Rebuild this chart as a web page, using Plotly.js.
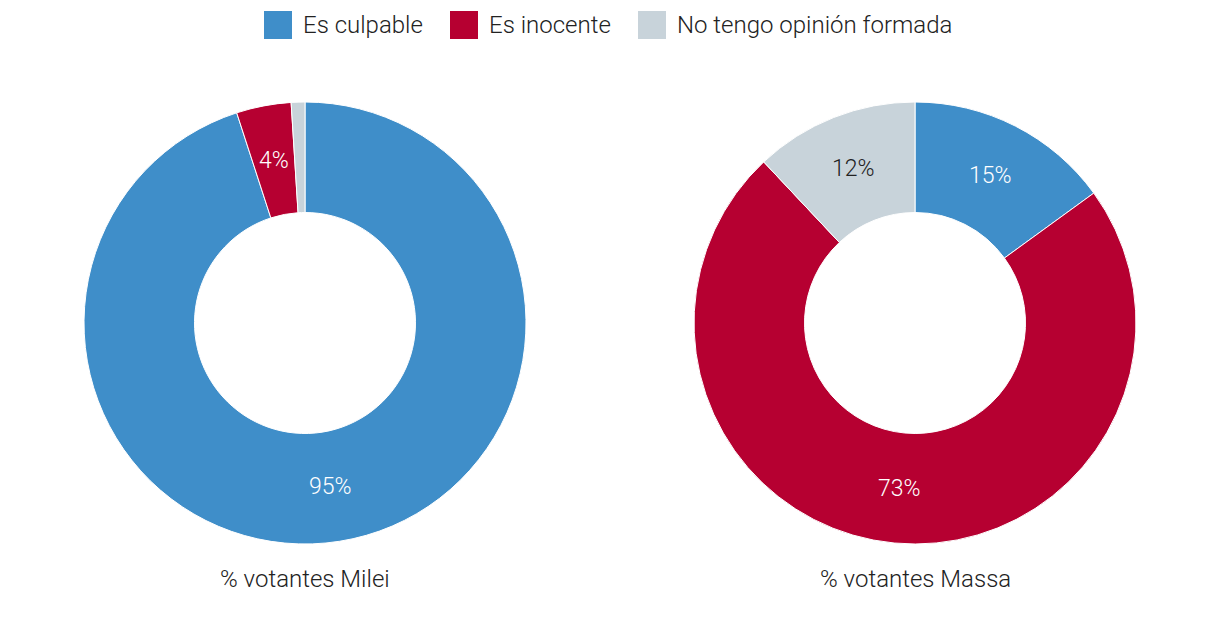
<!DOCTYPE html>
<html>
<head>
<meta charset="utf-8">
<script src="https://cdn.plot.ly/plotly-3.0.1.min.js"></script>
<style>
  html, body { margin: 0; padding: 0; background: #fff; }
  #chart { width: 1220px; height: 626px; }
</style>
</head>
<body>
<div id="chart"></div>
<script>
// opinión sobre culpabilidad, por votantes de cada candidato
var categories = ['Es culpable', 'Es inocente', 'No tengo opinión formada'];
var colors = ['#3f8ec9', '#b60031', '#c8d3da'];
var textColors = ['#ffffff', '#ffffff', '#222222'];

var mileiValues = [95, 4, 1];
var massaValues = [15, 73, 12];

var mileiTitle = '% votantes Milei';
var massaTitle = '% votantes Massa';

var FONT = 'Roboto, "Liberation Sans", sans-serif';
var W = 1220, H = 626;
var HOLE = 0.5;

// pie boxes in pixels (square, so radius = half side)
var boxes = [
    { x0: 84, x1: 526, y0: 102, y1: 544, vals: mileiValues, title: mileiTitle },
    { x0: 694, x1: 1136, y0: 102, y1: 544, vals: massaValues, title: massaTitle }
];

function donut(b) {
    return {
        type: 'pie',
        labels: categories,
        values: b.vals,
        textinfo: 'none',
        hole: HOLE,
        sort: false,
        direction: 'clockwise',
        rotation: 0,
        marker: { colors: colors, line: { color: '#ffffff', width: 1 } },
        domain: { x: [b.x0 / W, b.x1 / W], y: [1 - b.y1 / H, 1 - b.y0 / H] },
        showlegend: false,
        hoverinfo: 'label+value'
    };
}

var data = boxes.map(donut);

var shapes = [];
var annotations = [];

// slice labels, centred in the ring at each slice's mid angle
boxes.forEach(function (b) {
    var total = b.vals.reduce(function (a, v) { return a + v; }, 0);
    var cx = (b.x0 + b.x1) / 2, cy = (b.y0 + b.y1) / 2;
    var r = (b.x1 - b.x0) / 2 * (1 + HOLE) / 2;
    var cum = 0;
    b.vals.forEach(function (v, i) {
        var mid = (cum + v / 2) / total * 2 * Math.PI;
        cum += v;
        if (v < 2) return; // the 1% slice carries no label
        annotations.push({
            xref: 'paper', yref: 'paper',
            x: (cx + r * Math.sin(mid)) / W,
            y: 1 - (cy - r * Math.cos(mid)) / H,
            xanchor: 'center', yanchor: 'middle',
            text: v + '%', showarrow: false,
            font: { family: FONT, size: 23, weight: 300, color: textColors[i] }
        });
    });
    annotations.push({
        xref: 'paper', yref: 'paper',
        x: cx / W, y: 1 - 579 / H,
        xanchor: 'center', yanchor: 'middle',
        text: b.title, showarrow: false,
        font: { family: FONT, size: 24, weight: 300, color: '#222222' }
    });
});

// legend drawn by hand so the swatches are big squares
var legendX = [264, 450, 638];
categories.forEach(function (c, i) {
    shapes.push({
        type: 'rect', xref: 'paper', yref: 'paper',
        x0: legendX[i] / W, x1: (legendX[i] + 28) / W,
        y0: 1 - 39 / H, y1: 1 - 11 / H,
        fillcolor: colors[i], line: { width: 0 }
    });
    annotations.push({
        xref: 'paper', yref: 'paper',
        x: (legendX[i] + 37) / W, y: 1 - 25 / H,
        xanchor: 'left', yanchor: 'middle',
        text: c, showarrow: false,
        font: { family: FONT, size: 24, weight: 300, color: '#222222' }
    });
});

var layout = {
    width: W,
    height: H,
    margin: { l: 0, r: 0, t: 0, b: 0 },
    paper_bgcolor: '#ffffff',
    font: { family: FONT, color: '#222222' },
    shapes: shapes,
    annotations: annotations
};

Plotly.newPlot('chart', data, layout, { displayModeBar: false, staticPlot: true });
</script>
</body>
</html>
